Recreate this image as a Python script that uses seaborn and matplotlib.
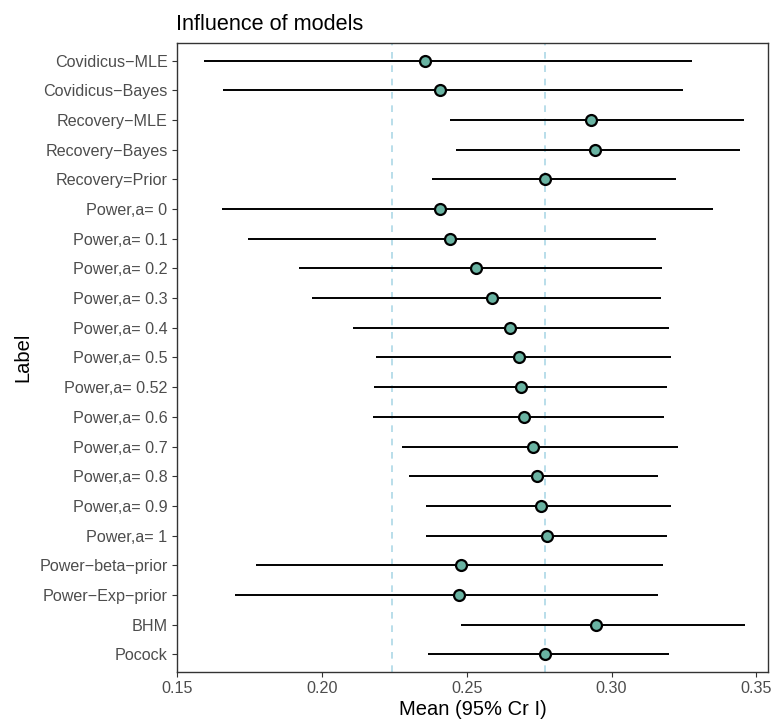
import matplotlib
matplotlib.use("Agg")
import matplotlib.pyplot as plt
import seaborn as sns
import pandas as pd

labels = ["Covidicus\u2212MLE", "Covidicus\u2212Bayes", "Recovery\u2212MLE", "Recovery\u2212Bayes",
          "Recovery=Prior", "Power,a= 0", "Power,a= 0.1", "Power,a= 0.2", "Power,a= 0.3",
          "Power,a= 0.4", "Power,a= 0.5", "Power,a= 0.52", "Power,a= 0.6", "Power,a= 0.7",
          "Power,a= 0.8", "Power,a= 0.9", "Power,a= 1", "Power\u2212beta\u2212prior",
          "Power\u2212Exp\u2212prior", "BHM", "Pocock"]
means = [0.2357, 0.2408, 0.2929, 0.2943, 0.2771, 0.2408, 0.2442, 0.2531, 0.2587,
         0.2649, 0.2681, 0.2688, 0.2699, 0.2728, 0.2742, 0.2756, 0.2776, 0.2481,
         0.2474, 0.2947, 0.2772]
lower = [0.1593, 0.1658, 0.2444, 0.2464, 0.2379, 0.1654, 0.1746, 0.1921, 0.1967,
         0.2106, 0.2186, 0.2179, 0.2175, 0.2276, 0.2300, 0.2360, 0.2361, 0.1772,
         0.1699, 0.2482, 0.2368]
upper = [0.3279, 0.3248, 0.3456, 0.3444, 0.3221, 0.3350, 0.3155, 0.3175, 0.3172,
         0.3197, 0.3206, 0.3191, 0.3182, 0.3230, 0.3162, 0.3206, 0.3190, 0.3177,
         0.3162, 0.3460, 0.3197]
ref_lines = [0.2241, 0.2771]
x_ticks = [0.15, 0.20, 0.25, 0.30, 0.35]

df = pd.DataFrame({"Label": labels, "Mean": means, "Lower": lower, "Upper": upper})

sns.set_style("white")
plt.rcParams["font.family"] = ["Liberation Sans", "DejaVu Sans"]

fig = plt.figure(figsize=(7.73, 7.2), dpi=100)
ax = fig.add_axes([176.5 / 773, 1 - 672 / 720, (768.5 - 176.5) / 773, (672 - 43) / 720])

for xv in ref_lines:
    ax.axvline(xv, color="#ADD8E6", linestyle=(0, (4, 4)), linewidth=1.2, zorder=1)

ax.hlines(y=df["Label"], xmin=df["Lower"], xmax=df["Upper"], color="black", linewidth=1.4, zorder=2)
sns.scatterplot(data=df, x="Mean", y="Label", ax=ax, s=62, color="#69b3a2",
                edgecolor="black", linewidth=1.6, zorder=3, legend=False)

n = len(labels)
ax.set_ylim(n - 1 + 0.6, -0.6)
ax.set_xlim(0.1498, 0.3542)
ax.set_xticks(x_ticks)
ax.set_xticklabels([f"{v:.2f}" for v in x_ticks])

for sp in ax.spines.values():
    sp.set_visible(True)
    sp.set_color("#333333")
    sp.set_linewidth(1.0)

ax.tick_params(axis="both", which="both", length=3.6, width=0.8, color="#333333",
               labelsize=11.6, labelcolor="#4D4D4D", pad=2.8, left=True, bottom=True)

ax.set_xlabel("Mean (95% Cr I)", fontsize=14.5, color="black", labelpad=3)
ax.set_ylabel("Label", fontsize=14.5, color="black", labelpad=5)
ax.set_title("Influence of models", fontsize=15.6, loc="left", pad=9, color="black")

fig.savefig("out.png", dpi=100)
